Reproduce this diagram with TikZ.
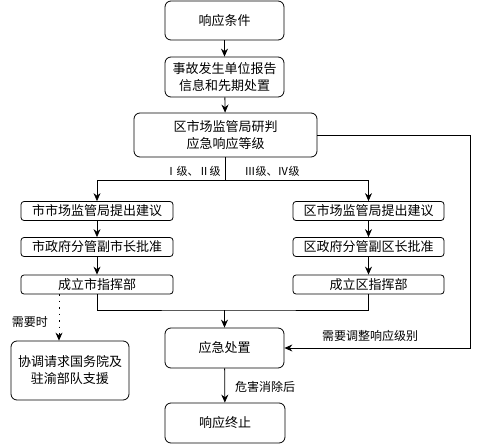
\documentclass[tikz,border=0pt]{standalone}
\usepackage{fontspec}
\setmainfont{Noto Sans CJK SC}
\usetikzlibrary{arrows.meta}
\begin{document}
\begin{tikzpicture}[x=1pt,y=-1pt,
  bigbox/.style={draw,rounded corners=6pt,line width=0.8pt,align=center,inner sep=0pt,font=\fontsize{13}{17}\selectfont},
  smallbox/.style={draw,rounded corners=3pt,line width=0.8pt,align=center,inner sep=0pt,minimum width=152pt,minimum height=19pt,font=\fontsize{13}{16}\selectfont},
  conn/.style={line width=0.8pt},
  arr/.style={conn,-{Stealth[length=8pt,width=7pt]}},
  lbl/.style={font=\fontsize{11}{13}\selectfont,inner sep=1pt},
]
\useasboundingbox (0,0) rectangle (479,444);
\node[bigbox,minimum width=119pt,minimum height=39pt] (b1) at (224.5,20.5) {响应条件};
\node[bigbox,minimum width=119pt,minimum height=40pt] (b2) at (224.5,77) {事故发生单位报告\\信息和先期处置};
\node[bigbox,minimum width=183pt,minimum height=44pt] (b3) at (225.5,135) {区市场监管局研判\\应急响应等级};
\node[smallbox] (l1) at (97,211) {市市场监管局提出建议};
\node[smallbox] (l2) at (97,247) {市政府分管副市长批准};
\node[smallbox] (l3) at (97,284.5) {成立市指挥部};
\node[smallbox,minimum width=151pt] (r1) at (368.5,211) {区市场监管局提出建议};
\node[smallbox,minimum width=151pt] (r2) at (368.5,247) {区政府分管副区长批准};
\node[smallbox,minimum width=151pt] (r3) at (368.5,284.5) {成立区指挥部};
\node[bigbox,minimum width=118pt,minimum height=59pt] (h) at (70,370.5) {协调请求国务院及\\驻渝部队支援};
\node[bigbox,minimum width=119pt,minimum height=40pt] (e) at (224.5,348) {应急处置};
\node[bigbox,minimum width=120pt,minimum height=40pt] (t) at (225,423) {响应终止};

\draw[arr] (b1) -- (b2);
\draw[arr] (b2) -- (b3);
\coordinate (sp) at (225.5,180);
\draw[conn] (b3.south) -- (sp);
\draw[arr] (sp) -| (l1.north);
\draw[arr] (sp) -| (r1.north);
\node[lbl] (lab1) at (193,171) {Ⅰ级、Ⅱ级};
\node[lbl] (lab2) at (272,171) {Ⅲ级、Ⅳ级};
\draw[arr] (l1) -- (l2);
\draw[arr] (l2) -- (l3);
\draw[arr] (r1) -- (r2);
\draw[arr] (r2) -- (r3);
\coordinate (mg) at (224.5,310);
\draw[conn] (l3.south) |- (mg) -| (r3.south);
\draw[arr] (mg) -- (e.north);
\coordinate (ls) at (59,294);
\draw[arr,dash pattern=on 1.5pt off 5pt] (ls) -- (h.north -| ls);
\node[lbl,font=\fontsize{12}{14}\selectfont] (need) at (30,322) {需要时};
\coordinate (rc) at (470,135);
\draw[conn] (b3.east) -- (rc);
\draw[arr] (rc) |- (e.east);
\node[lbl,font=\fontsize{12}{14}\selectfont] (adj) at (370,336) {需要调整响应级别};
\draw[arr] (e) -- (t);
\node[lbl,font=\fontsize{12}{14}\selectfont] (gone) at (265,387) {危害消除后};
\end{tikzpicture}
\end{document}
